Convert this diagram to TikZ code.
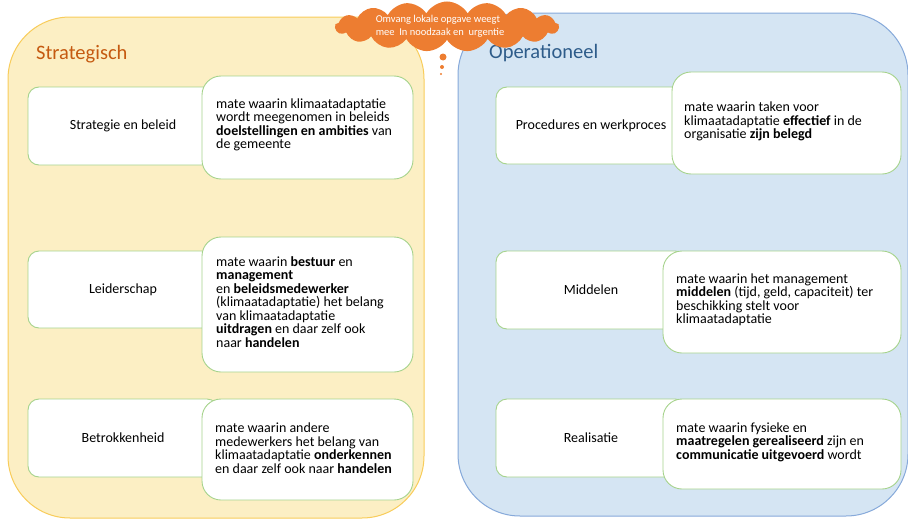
\documentclass[tikz,border=0pt]{standalone}
\usepackage{fontspec}
\setmainfont{Carlito}
\usetikzlibrary{shapes.symbols}
\definecolor{yfill}{HTML}{FCEFC4}
\definecolor{ydraw}{HTML}{F8CC5A}
\definecolor{bfill}{HTML}{D5E5F3}
\definecolor{bdraw}{HTML}{86A9DA}
\definecolor{gdraw}{HTML}{A6D38C}
\definecolor{orng}{HTML}{ED7D31}
\definecolor{ttlY}{HTML}{C55A11}
\definecolor{ttlB}{HTML}{2E5C8A}
\tikzset{
  panel/.style={rectangle, rounded corners=62pt, line width=1pt, inner sep=0pt},
  labelbox/.style={rectangle, rounded corners=11pt, draw=gdraw, fill=white, line width=0.9pt,
     font=\fontsize{14}{16}\selectfont, inner sep=0pt},
  detailbox/.style={rectangle, rounded corners=19pt, draw=gdraw, fill=white, line width=0.9pt, inner sep=0pt},
  dtext/.style={anchor=west, align=left, inner sep=0pt, font=\fontsize{14}{13.5}\selectfont},
  ttl/.style={anchor=west, font=\fontsize{20.5}{24}\selectfont, inner sep=0pt},
  bubble/.style={circle, fill=orng, inner sep=0pt},
}
\begin{document}
\begin{tikzpicture}[x=1pt,y=-1pt]
\useasboundingbox (0,0) rectangle (908,522);
% panels
\node[panel, draw=ydraw, fill=yfill, minimum width=416pt, minimum height=501pt] (strat) at (216,267.5) {};
\node[panel, draw=bdraw, fill=bfill, minimum width=450pt, minimum height=503pt] (oper) at (683,264.5) {};
% titles
\node[ttl, text=ttlY] (tS) at (36,54) {Strategisch};
\node[ttl, text=ttlB] (tO) at (489,53) {Operationeel};
% cloud
\node[cloud, cloud puffs=17, cloud puff arc=120, cloud ignores aspect, fill=orng, draw=none,
      minimum width=224pt, minimum height=50pt, inner sep=0pt] (cloud) at (447,26.5) {};
\node[text=white, font=\fontsize{10.5}{13}\selectfont, align=left, inner sep=0pt] (ctext) at (440,26)
  {Omvang lokale opgave weegt\\mee~ In noodzaak en~ urgentie};
\node[bubble, minimum size=7pt] (b1) at (443,57) {};
\node[bubble, minimum size=4pt] (b2) at (442,67) {};
\node[bubble, minimum size=2.4pt] (b3) at (441,74) {};
% left column
\node[labelbox, minimum width=190pt, minimum height=78pt] (l1) at (123,126) {Strategie en beleid};
\node[detailbox, minimum width=211pt, minimum height=103pt] (d1) at (307.5,127.5) {};
\node[dtext] (d1t) at (216,125)
 {mate waarin klimaatadaptatie\\wordt meegenomen in beleids\\\textbf{doelstellingen en ambities} van\\de gemeente};
\node[labelbox, minimum width=190pt, minimum height=77pt] (l2) at (123,289.5) {Leiderschap};
\node[detailbox, minimum width=211pt, minimum height=135pt] (d2) at (307.5,304.5) {};
\node[dtext] (d2t) at (216,302)
 {mate waarin \textbf{bestuur} en\\\textbf{management}\\en \textbf{beleidsmedewerker}\\(klimaatadaptatie) het belang\\van klimaatadaptatie\\\textbf{uitdragen} en daar zelf ook\\naar \textbf{handelen}};
\node[labelbox, minimum width=190pt, minimum height=78pt] (l3) at (123,438) {Betrokkenheid};
\node[detailbox, minimum width=211pt, minimum height=101pt] (d3) at (307.5,449.5) {};
\node[dtext] (d3t) at (215,448)
 {mate waarin andere\\medewerkers het belang van\\klimaatadaptatie \textbf{onderkennen}\\en daar zelf ook naar \textbf{handelen}};
% right column
\node[labelbox, minimum width=190pt, minimum height=77pt] (r1) at (591,125.5) {Procedures en werkproces};
\node[detailbox, minimum width=229pt, minimum height=102pt] (e1) at (786.5,123) {};
\node[dtext] (e1t) at (684,121.5)
 {mate waarin taken voor\\klimaatadaptatie \textbf{effectief} in de\\organisatie \textbf{zijn belegd}};
\node[labelbox, minimum width=190pt, minimum height=78pt] (r2) at (591,290) {Middelen};
\node[detailbox, minimum width=238pt, minimum height=102pt] (e2) at (782,302) {};
\node[dtext] (e2t) at (676,300)
 {mate waarin het management\\\textbf{middelen} (tijd, geld, capaciteit) ter\\beschikking stelt voor\\klimaatadaptatie};
\node[labelbox, minimum width=190pt, minimum height=78pt] (r3) at (591,438) {Realisatie};
\node[detailbox, minimum width=238pt, minimum height=90pt] (e3) at (782,444) {};
\node[dtext] (e3t) at (676,442)
 {mate waarin fysieke en\\\textbf{maatregelen gerealiseerd} zijn en\\\textbf{communicatie uitgevoerd} wordt};
\end{tikzpicture}
\end{document}
